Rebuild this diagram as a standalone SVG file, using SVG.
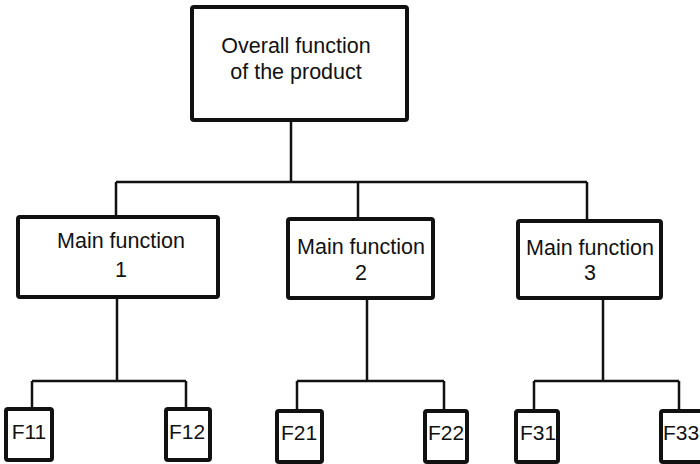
<svg xmlns="http://www.w3.org/2000/svg" width="700" height="464" viewBox="0 0 700 464">
  <style>
    .box { fill: #fff; stroke: #111; stroke-width: 4; }
    .wire { fill: none; stroke: #111; stroke-width: 2.5; }
    .lbl { font-family: "Liberation Sans", Arial, sans-serif; font-size: 21.5px; fill: #111; text-anchor: middle; }
    .leaf { font-family: "Liberation Sans", Arial, sans-serif; font-size: 21px; fill: #111; text-anchor: middle; }
  </style>
  <rect width="700" height="464" fill="#fff"/>

  <!-- tree connectors -->
  <g id="connectors" class="wire">
    <path d="M291 120 V182 M116 182 H587 M116 182 V217 M358 182 V219 M587 182 V221"/>
    <path d="M117 297 V381 M32 381 H186 M32 381 V408 M186 381 V408"/>
    <path d="M367 298 V381 M297 381 H444 M297 381 V410 M444 381 V410"/>
    <path d="M603 298 V381 M534 381 H679 M534 381 V410 M679 381 V410"/>
  </g>

  <g id="overall">
    <rect class="box" x="192" y="7" width="215" height="113" rx="2"/>
    <text class="lbl" x="296" y="53">Overall function</text>
    <text class="lbl" x="296" y="79">of the product</text>
  </g>

  <g id="main1">
    <rect class="box" x="18" y="217" width="200" height="80" rx="2"/>
    <text class="lbl" x="121" y="248">Main function</text>
    <text class="lbl" x="121" y="277">1</text>
  </g>
  <g id="main2">
    <rect class="box" x="288" y="219" width="145" height="79" rx="2"/>
    <text class="lbl" x="361" y="254">Main function</text>
    <text class="lbl" x="361" y="280">2</text>
  </g>
  <g id="main3">
    <rect class="box" x="518" y="221" width="143" height="77" rx="2"/>
    <text class="lbl" x="590" y="255">Main function</text>
    <text class="lbl" x="590" y="280">3</text>
  </g>

  <g id="f11">
    <rect class="box" x="6" y="409" width="46" height="51" rx="2"/>
    <text class="leaf" x="29" y="439">F11</text>
  </g>
  <g id="f12">
    <rect class="box" x="166" y="409" width="44" height="51" rx="2"/>
    <text class="leaf" x="187" y="439">F12</text>
  </g>
  <g id="f21">
    <rect class="box" x="277" y="411" width="45" height="51" rx="2"/>
    <text class="leaf" x="299" y="440">F21</text>
  </g>
  <g id="f22">
    <rect class="box" x="425" y="411" width="42" height="51" rx="2"/>
    <text class="leaf" x="446" y="440">F22</text>
  </g>
  <g id="f31">
    <rect class="box" x="516" y="411" width="42" height="51" rx="2"/>
    <text class="leaf" x="538" y="440">F31</text>
  </g>
  <g id="f33">
    <rect class="box" x="661" y="411" width="46" height="51" rx="2"/>
    <text class="leaf" x="681" y="440">F33</text>
  </g>
</svg>
